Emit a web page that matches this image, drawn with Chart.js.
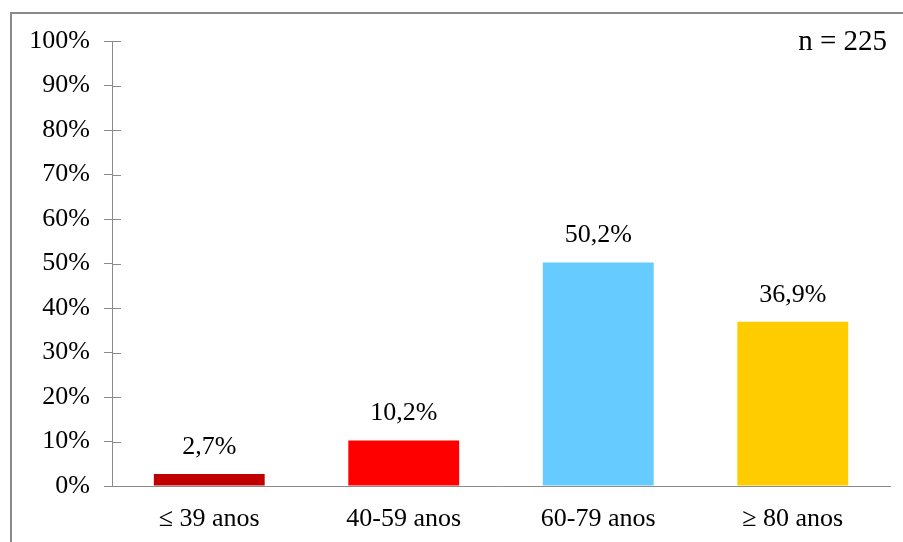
<!DOCTYPE html>
<html>
<head>
<meta charset="utf-8">
<script src="https://cdn.jsdelivr.net/npm/chart.js@4/dist/chart.umd.min.js"></script>
<style>
  html, body { margin: 0; padding: 0; background: #fff; overflow: hidden; }
  #frame {
    position: absolute; left: 10px; top: 12px;
    width: 1000px; height: 1000px;
    border: 2px solid #8a8a8a; box-sizing: border-box;
  }
  #wrap { position: absolute; left: 0; top: 0; width: 903px; height: 542px; }
</style>
</head>
<body>
<div id="frame"></div>
<div id="wrap"><canvas id="ageChart" width="903" height="542"></canvas></div>
<script>
// age groups and share of patients (%)
const categories = ['≤ 39 anos', '40-59 anos', '60-79 anos', '≥ 80 anos']
const values = [2.7, 10.2, 50.2, 36.9]
const yTicks = [0, 10, 20, 30, 40, 50, 60, 70, 80, 90, 100]
const sampleLabel = 'n = 225'

const barColors = ['#C00000', '#FF0000', '#66CCFF', '#FFCC00']
const axisGray = '#8a8a8a'
const serif = '"Liberation Serif", "Times New Roman", serif'

// percentage text over each bar, e.g. 50,2%
const valueLabels = {
  id: 'valueLabels',
  afterDatasetsDraw(chart) {
    const ctx = chart.ctx
    const meta = chart.getDatasetMeta(0)
    ctx.save()
    ctx.font = '26px ' + serif
    ctx.fillStyle = '#000'
    ctx.textAlign = 'center'
    ctx.textBaseline = 'middle'
    meta.data.forEach((bar, i) => {
      const txt = values[i].toFixed(1).replace('.', ',') + '%'
      ctx.fillText(txt, bar.x, bar.y - 27)
    })
    ctx.restore()
  }
}

// tick marks that cross the y axis + the sample size note
const extras = {
  id: 'extras',
  afterDraw(chart) {
    const ctx = chart.ctx
    const y = chart.scales.y
    const left = chart.chartArea.left
    ctx.save()
    ctx.strokeStyle = axisGray
    ctx.lineWidth = 1
    yTicks.forEach(t => {
      const py = Math.round(y.getPixelForValue(t)) + 0.5
      ctx.beginPath()
      ctx.moveTo(left, py)
      ctx.lineTo(left + 9, py)
      ctx.stroke()
    })
    ctx.font = '29px ' + serif
    ctx.fillStyle = '#000'
    ctx.textAlign = 'right'
    ctx.textBaseline = 'middle'
    ctx.fillText(sampleLabel, 887, 42)
    ctx.restore()
  }
}

new Chart(document.getElementById('ageChart'), {
  type: 'bar',
  data: {
    labels: categories,
    datasets: [{
      data: values,
      backgroundColor: barColors,
      borderWidth: 0,
      barPercentage: 0.57,
      categoryPercentage: 1
    }]
  },
  options: {
    responsive: false,
    animation: false,
    layout: { padding: { top: 41, right: 13, left: 0, bottom: 0 } },
    plugins: { legend: { display: false }, tooltip: { enabled: false } },
    scales: {
      x: {
        grid: { display: false },
        border: { display: true, color: axisGray, width: 1 },
        ticks: { color: '#000', font: { family: serif, size: 26 }, padding: 10, maxRotation: 0 },
        afterFit(scale) { scale.height = 56 }
      },
      y: {
        min: 0,
        max: 100,
        afterBuildTicks(scale) { scale.ticks = yTicks.map(v => ({ value: v })) },
        grid: { drawOnChartArea: false, drawTicks: true, tickLength: 8, color: axisGray },
        border: { display: true, color: axisGray, width: 1 },
        ticks: {
          color: '#000',
          font: { family: serif, size: 26 },
          padding: 14,
          callback: v => v + '%'
        },
        afterFit(scale) { scale.width = 112 }
      }
    }
  },
  plugins: [valueLabels, extras]
})
</script>
</body>
</html>
